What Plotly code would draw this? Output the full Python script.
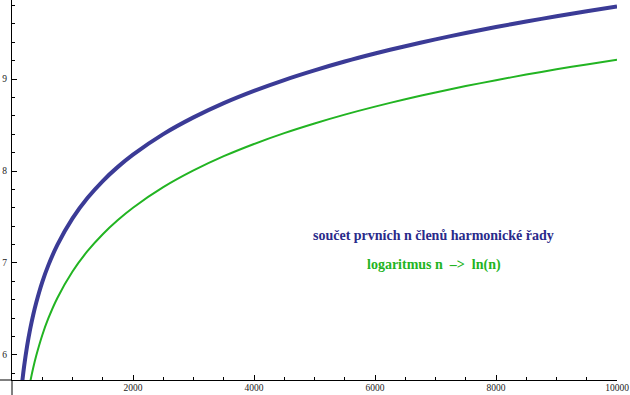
import plotly.graph_objects as go

# values
n_harm = [150, 170, 200, 250, 300, 350, 400, 500, 600, 750, 1000, 1250, 1500, 1750, 2000, 2500, 3000,
          3500, 4000, 4500, 5000, 5500, 6000, 6500, 7000, 7500, 8000, 8500, 9000, 9500, 10000]
h_vals = [5.588, 5.713, 5.876, 6.099, 6.281, 6.435, 6.568, 6.792, 6.974, 7.197, 7.485, 7.708,
          7.891, 8.045, 8.178, 8.401, 8.583, 8.738, 8.871, 8.989, 9.094, 9.190, 9.277, 9.357,
          9.431, 9.500, 9.565, 9.625, 9.682, 9.736, 9.788]
n_log = [280, 300, 350, 400, 500, 600, 750, 1000, 1250, 1500, 1750, 2000, 2500, 3000, 3500, 4000,
         4500, 5000, 5500, 6000, 6500, 7000, 7500, 8000, 8500, 9000, 9500, 10000]
ln_vals = [5.635, 5.704, 5.858, 5.991, 6.215, 6.397, 6.620, 6.908, 7.131, 7.313, 7.467, 7.601,
           7.824, 8.006, 8.161, 8.294, 8.412, 8.517, 8.613, 8.700, 8.780, 8.854, 8.923, 8.987,
           9.048, 9.105, 9.159, 9.210]
x_ticks = [2000, 4000, 6000, 8000, 10000]
y_ticks = [6, 7, 8, 9]
label_harm = "součet prvních n členů harmonické řady"
label_log = "logaritmus n  –>  ln(n)"

BLUE = "#3b3b96"
GREEN = "#22b422"
FONT = "Liberation Serif, DejaVu Serif, serif"

fig = go.Figure()
fig.add_trace(go.Scatter(x=n_log, y=ln_vals, mode="lines",
                         line=dict(color=GREEN, width=2, shape="spline", smoothing=0.8),
                         showlegend=False, hoverinfo="skip"))
fig.add_trace(go.Scatter(x=n_harm, y=h_vals, mode="lines",
                         line=dict(color=BLUE, width=4, shape="spline", smoothing=0.8),
                         showlegend=False, hoverinfo="skip"))

fig.add_annotation(x=0.697, y=0.379, xref="paper", yref="paper", xanchor="center", yanchor="middle",
                   text="<b>" + label_harm + "</b>",
                   showarrow=False, font=dict(family=FONT, size=14, color="#2a2a8a"))
fig.add_annotation(x=0.697, y=0.303, xref="paper", yref="paper", xanchor="center", yanchor="middle",
                   text="<b>" + label_log + "</b>",
                   showarrow=False, font=dict(family=FONT, size=14, color=GREEN))

# axis line extensions (Mathematica style crossing axes)
fig.add_shape(type="line", xref="paper", yref="paper", x0=-0.03, x1=0, y0=0, y1=0,
              line=dict(color="black", width=1))
fig.add_shape(type="line", xref="paper", yref="paper", x0=0, x1=0, y0=0, y1=-0.045,
              line=dict(color="black", width=1))

fig.update_xaxes(range=[0, 10000], tickvals=x_ticks, ticktext=[str(v) for v in x_ticks],
                 ticks="inside", ticklen=5, tickcolor="black", showline=True, linecolor="black",
                 linewidth=1, showgrid=False, zeroline=False,
                 minor=dict(dtick=500, tick0=0, ticks="inside", ticklen=3, tickcolor="black", showgrid=False),
                 tickfont=dict(family=FONT, size=9.5, color="#222"), ticklabelstandoff=-1)
fig.update_yaxes(range=[5.728, 9.859], tickvals=y_ticks, ticktext=[str(v) for v in y_ticks],
                 ticks="inside", ticklen=5, tickcolor="black", showline=True, linecolor="black",
                 linewidth=1, showgrid=False, zeroline=False,
                 minor=dict(dtick=0.2, tick0=6, ticks="inside", ticklen=3, tickcolor="black", showgrid=False),
                 tickfont=dict(family=FONT, size=9.5, color="#222"), ticklabelstandoff=2)

fig.update_layout(width=630, height=395, margin=dict(l=12, r=13, t=0, b=15),
                  plot_bgcolor="white", paper_bgcolor="white")
fig.write_html("out.html", post_script="document.body.style.margin='0';",
               config={"displayModeBar": False})
